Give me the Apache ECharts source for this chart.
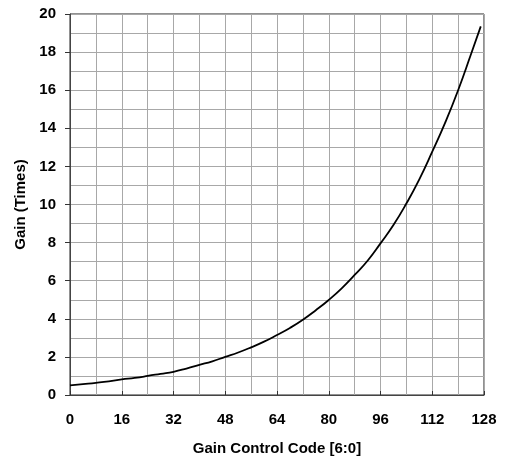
<!DOCTYPE html>
<html>
<head>
<meta charset="utf-8">
<script src="https://cdn.jsdelivr.net/npm/echarts@6/dist/echarts.min.js"></script>
<style>
html,body{margin:0;padding:0;background:#fff;}
#chart{width:507px;height:457px;}
</style>
</head>
<body>
<div id="chart"></div>
<script>
var codes = [0, 4, 8, 12, 16, 20, 24, 28, 32, 36, 40, 44, 48, 52, 56, 60, 64, 68, 72, 76, 80, 84, 88, 92, 96, 100, 104, 108, 112, 116, 120, 124, 127];
var gains = [0.50, 0.57, 0.64, 0.72, 0.82, 0.90, 1.00, 1.11, 1.22, 1.39, 1.58, 1.77, 2.00, 2.23, 2.50, 2.80, 3.15, 3.52, 3.95, 4.45, 4.99, 5.60, 6.30, 7.05, 7.96, 8.92, 10.05, 11.32, 12.77, 14.30, 16.00, 17.90, 19.35];
var xTitle = 'Gain Control Code [6:0]';
var yTitle = 'Gain (Times)';

var data = codes.map(function (c, i) { return [c, gains[i]]; });
var font = 'Liberation Sans, Arial, sans-serif';
var chart = echarts.init(document.getElementById('chart'));
chart.setOption({
  animation: false,
  backgroundColor: '#fff',
  grid: { left: 70, right: 23, top: 14, bottom: 62, show: true, borderColor: '#222', borderWidth: 1, backgroundColor: 'transparent', containLabel: false, outerBoundsMode: 'none' },
  xAxis: {
    type: 'value', min: 0, max: 128, interval: 16,
    name: xTitle, nameLocation: 'middle', nameGap: 46,
    nameTextStyle: { fontFamily: font, fontWeight: 'bold', fontSize: 15, color: '#000' },
    axisLine: { show: true, lineStyle: { color: '#444', width: 1 } },
    axisTick: { show: true, inside: true, length: 4, lineStyle: { color: '#333' } },
    axisLabel: { margin: 17, fontFamily: font, fontWeight: 'bold', fontSize: 15, color: '#000' },
    splitLine: { show: true, lineStyle: { color: '#a8a8a8', width: 1 } },
    minorTick: { show: false, splitNumber: 2 },
    minorSplitLine: { show: true, lineStyle: { color: '#a8a8a8', width: 1 } }
  },
  yAxis: {
    type: 'value', min: 0, max: 20, interval: 2,
    name: yTitle, nameLocation: 'middle', nameGap: 41,
    nameTextStyle: { fontFamily: font, fontWeight: 'bold', fontSize: 15, color: '#000' },
    axisLine: { show: true, lineStyle: { color: '#444', width: 1 } },
    axisTick: { show: true, inside: false, length: 5, lineStyle: { color: '#333' } },
    axisLabel: { margin: 14, fontFamily: font, fontWeight: 'bold', fontSize: 15, color: '#000' },
    splitLine: { show: true, lineStyle: { color: '#a8a8a8', width: 1 } },
    minorTick: { show: false, splitNumber: 2 },
    minorSplitLine: { show: true, lineStyle: { color: '#a8a8a8', width: 1 } }
  },
  series: [{
    type: 'line', data: data, smooth: true, showSymbol: false,
    lineStyle: { color: '#000', width: 1.8 }
  }]
});
</script>
</body>
</html>
